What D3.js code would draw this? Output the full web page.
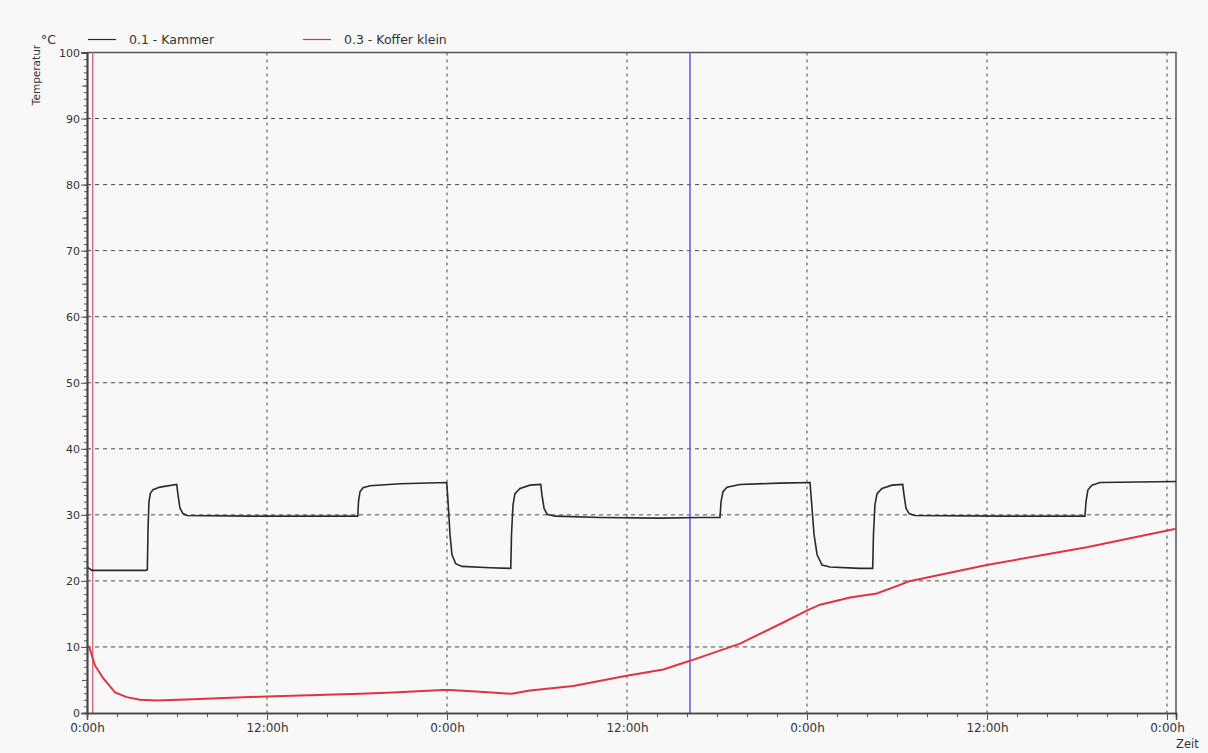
<!DOCTYPE html>
<html>
<head>
<meta charset="utf-8">
<script src="https://cdn.jsdelivr.net/npm/d3@7"></script>
<style>
  html, body { margin: 0; padding: 0; background: #f8f8f8; }
  svg { display: block; }
  text { font-family: "DejaVu Sans", sans-serif; fill: #333; }
</style>
</head>
<body>
<svg id="chart" width="1208" height="753"></svg>
<script>
// ---- Data (time in hours, temperature in °C) ----
const seriesNames = ["0.1 - Kammer", "0.3 - Koffer klein"];

const kammerHours = [0, 0.33, 3.93, 4.02, 4.07, 4.13, 4.23, 4.4, 4.87, 5.98, 6.07, 6.2, 6.4, 6.67, 10.87,
  18.05, 18.1, 18.2, 18.4, 18.87, 20.87, 23.98, 24.07, 24.2, 24.33, 24.58, 25.0, 26.87,
  28.25, 28.3, 28.4, 28.53, 28.87, 29.53, 30.25, 30.33, 30.47, 30.67, 31.2, 34.2, 38.2, 40.87,
  42.2, 42.27, 42.4, 42.67, 43.53, 46.2, 48.2, 48.3, 48.47, 48.67, 49.0, 49.53, 51.53,
  52.38, 52.43, 52.53, 52.67, 53.0, 53.67, 54.38, 54.47, 54.6, 54.8, 55.2, 60.87,
  66.53, 66.6, 66.73, 67.0, 67.53, 72.6];
const kammerTemps = [22.1, 21.6, 21.6, 21.7, 28, 32, 33.3, 33.8, 34.2, 34.6, 33, 31, 30.2, 29.9, 29.8,
  29.8, 32, 33.5, 34.1, 34.4, 34.7, 34.9, 32, 27, 24, 22.6, 22.2, 22.0,
  21.9, 27, 31.5, 33.2, 34.0, 34.5, 34.6, 33, 31, 30.1, 29.8, 29.6, 29.5, 29.6,
  29.6, 32, 33.5, 34.2, 34.6, 34.8, 34.9, 32, 27, 24, 22.4, 22.1, 21.9,
  21.9, 27, 31.5, 33.2, 34.0, 34.5, 34.6, 33, 31, 30.2, 29.9, 29.8,
  29.8, 32, 33.8, 34.5, 34.9, 35.05];

const kofferHours = [0, 0.15, 0.53, 1.07, 1.87, 2.65, 3.53, 4.65, 7.07, 11.98, 18.2, 20.4, 23.73, 24.2,
  26.2, 28.31, 29.53, 32.42, 35.98, 38.42, 40.2, 41.98, 43.53, 46.42, 47.98, 48.87, 50.87,
  52.65, 54.2, 54.75, 59.98, 66.65, 72.6];
const kofferTemps = [10.2, 9.95, 7.2, 5.3, 3.1, 2.4, 2.0, 1.9, 2.1, 2.5, 2.9, 3.1, 3.5, 3.5,
  3.2, 2.9, 3.4, 4.1, 5.65, 6.6, 7.9, 9.3, 10.5, 13.7, 15.5, 16.4, 17.5,
  18.1, 19.4, 19.9, 22.4, 25.1, 27.9];

const markerHours = [0.38, 40.2];          // vertical cursor lines
const xTickHours = [0, 12, 24, 36, 48, 60, 72];
const xTickLabels = ["0:00h", "12:00h", "0:00h", "12:00h", "0:00h", "12:00h", "0:00h"];
const yTickValues = [0, 10, 20, 30, 40, 50, 60, 70, 80, 90, 100];

// ---- Layout ----
const svg = d3.select("#chart");
const pL = 87, pR = 1176, pT = 52.5, pB = 713;

const x = d3.scaleLinear().domain([0, 72.6]).range([pL, pR]);
const y = d3.scaleLinear().domain([0, 100]).range([pB, pT]);

// grid
const grid = svg.append("g");
grid.selectAll("line.h").data(yTickValues.filter(v => v > 0 && v < 100)).join("line")
  .attr("x1", pL).attr("x2", pR).attr("y1", d => y(d)).attr("y2", d => y(d))
  .attr("stroke", "#4a4a4a").attr("stroke-width", 1).attr("stroke-dasharray", "4,4");
grid.selectAll("line.v").data(xTickHours.filter(v => v > 0)).join("line")
  .attr("x1", d => x(d)).attr("x2", d => x(d)).attr("y1", pT).attr("y2", pB)
  .attr("stroke", "#4a4a4a").attr("stroke-width", 1).attr("stroke-dasharray", "3,4");

// frame (top & right)
svg.append("path")
  .attr("d", `M${pL},${pT}H${pR}V${pB}`)
  .attr("fill", "none").attr("stroke", "#555").attr("stroke-width", 1.5);

// marker lines
const markerColors = ["#d4707c", "#5a5aee"];
svg.selectAll("line.marker").data(markerHours).join("line")
  .attr("x1", d => x(d)).attr("x2", d => x(d)).attr("y1", pT).attr("y2", pB)
  .attr("stroke", (d, i) => markerColors[i]).attr("stroke-width", 1.5);

// series
const line = d3.line().x(d => x(d[0])).y(d => y(d[1]));
const kammer = kammerHours.map((h, i) => [h, kammerTemps[i]]);
const koffer = kofferHours.map((h, i) => [h, kofferTemps[i]]);
svg.append("path").datum(kammer).attr("d", line)
  .attr("fill", "none").attr("stroke", "#2a2a2a").attr("stroke-width", 1.6);
svg.append("path").datum(koffer).attr("d", line)
  .attr("fill", "none").attr("stroke", "#e03540").attr("stroke-width", 2);

// axes
function styleAxis(g) {
  g.select(".domain").attr("stroke", "#444").attr("stroke-width", 1.5);
  g.selectAll(".tick line").attr("stroke", "#555");
}
// y minor ticks
svg.append("g").attr("transform", `translate(${pL},0)`)
  .call(d3.axisLeft(y).tickValues(d3.range(0, 101, 1)).tickSize(3).tickFormat(""))
  .call(styleAxis);
svg.append("g").attr("transform", `translate(${pL},0)`)
  .call(d3.axisLeft(y).tickValues(d3.range(5, 100, 10)).tickSize(5).tickFormat(""))
  .call(styleAxis);
const yAxis = svg.append("g").attr("transform", `translate(${pL},0)`)
  .call(d3.axisLeft(y).tickValues(yTickValues).tickSize(6).tickPadding(1))
  .call(styleAxis);
yAxis.selectAll(".tick text").style("font-size", "11px").attr("fill", "#333");

// x ticks
svg.append("g").attr("transform", `translate(0,${pB})`)
  .call(d3.axisBottom(x).tickValues(d3.range(0, 73, 2)).tickSize(4).tickFormat(""))
  .call(styleAxis);
const xAxis = svg.append("g").attr("transform", `translate(0,${pB})`)
  .call(d3.axisBottom(x).tickValues(xTickHours).tickSize(7).tickPadding(3)
    .tickFormat((d, i) => xTickLabels[i]))
  .call(styleAxis);
xAxis.selectAll(".tick text").style("font-size", "12px").attr("fill", "#333");

// axis titles
svg.append("text").attr("transform", "translate(40,75) rotate(-90)")
  .attr("text-anchor", "middle").style("font-size", "10.5px").text("Temperatur");
svg.append("text").attr("x", 41).attr("y", 44).style("font-size", "12.5px").text("°C");
svg.append("text").attr("x", 1176).attr("y", 748).style("font-size", "11.5px").text("Zeit");

// legend
const legendX = [88, 303];
const legendColors = ["#2a2a2a", "#e03540"];
const lg = svg.append("g");
seriesNames.forEach((name, i) => {
  lg.append("line").attr("x1", legendX[i]).attr("x2", legendX[i] + 28)
    .attr("y1", 39.5).attr("y2", 39.5).attr("stroke", legendColors[i]).attr("stroke-width", 1.2);
  lg.append("text").attr("x", legendX[i] + 41).attr("y", 44)
    .style("font-size", "12.5px").text(name);
});
</script>
</body>
</html>
